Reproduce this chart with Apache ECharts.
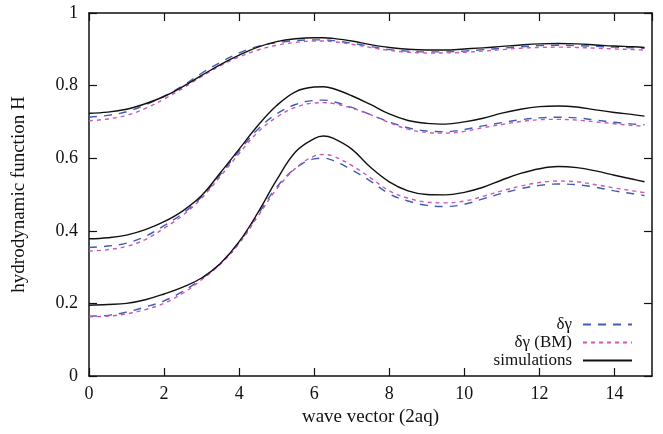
<!DOCTYPE html>
<html>
<head>
<meta charset="utf-8">
<script src="https://cdn.jsdelivr.net/npm/echarts@6/dist/echarts.min.js"></script>
<style>html,body{margin:0;padding:0;background:#fff}#c{width:663px;height:434px}</style>
</head>
<body>
<div id="c"></div>
<script>
// wave vector samples (2aq)
var q = [0,0.5,1,1.5,2,2.5,3,3.5,4,4.5,5,5.5,6,6.25,6.5,7,7.5,8,8.5,9,9.5,10,10.5,11,11.5,12,12.5,13,13.5,14,14.5,14.8];
var xTicks = [0,2,4,6,8,10,12,14];
var yTicks = [0,0.2,0.4,0.6,0.8,1];

// top group
var topSim = [0.724,0.727,0.735,0.750,0.770,0.797,0.828,0.858,0.884,0.906,0.921,0.929,0.932,0.932,0.930,0.923,0.913,0.905,0.900,0.898,0.898,0.901,0.904,0.908,0.912,0.915,0.916,0.915,0.912,0.909,0.907,0.905];
var topDg  = [0.713,0.718,0.728,0.747,0.771,0.800,0.834,0.864,0.890,0.908,0.918,0.924,0.926,0.926,0.924,0.917,0.908,0.899,0.895,0.893,0.893,0.895,0.899,0.903,0.907,0.910,0.911,0.910,0.908,0.906,0.904,0.903];
var topBM  = [0.703,0.708,0.718,0.737,0.763,0.793,0.825,0.855,0.879,0.898,0.911,0.919,0.923,0.923,0.921,0.914,0.905,0.897,0.892,0.890,0.890,0.892,0.895,0.899,0.903,0.905,0.906,0.905,0.903,0.901,0.899,0.898];
// middle group
var midSim = [0.378,0.381,0.388,0.403,0.425,0.455,0.497,0.560,0.625,0.690,0.745,0.783,0.796,0.797,0.792,0.772,0.748,0.722,0.704,0.696,0.694,0.700,0.710,0.724,0.735,0.742,0.744,0.741,0.733,0.726,0.720,0.716];
var midDg  = [0.354,0.358,0.366,0.385,0.414,0.448,0.494,0.555,0.620,0.680,0.722,0.748,0.759,0.760,0.756,0.740,0.720,0.700,0.684,0.675,0.673,0.679,0.689,0.698,0.706,0.711,0.713,0.711,0.705,0.699,0.694,0.692];
var midBM  = [0.344,0.348,0.357,0.376,0.407,0.443,0.490,0.550,0.613,0.672,0.713,0.740,0.752,0.753,0.751,0.738,0.720,0.698,0.680,0.671,0.669,0.674,0.684,0.693,0.701,0.706,0.707,0.705,0.700,0.695,0.690,0.689];
// bottom group
var botSim = [0.195,0.197,0.200,0.210,0.226,0.245,0.270,0.310,0.370,0.450,0.540,0.617,0.654,0.661,0.655,0.625,0.575,0.535,0.510,0.500,0.499,0.506,0.520,0.540,0.558,0.571,0.577,0.574,0.565,0.553,0.542,0.535];
var botDg  = [0.165,0.167,0.176,0.190,0.207,0.233,0.268,0.310,0.368,0.445,0.520,0.572,0.598,0.600,0.594,0.568,0.537,0.502,0.482,0.470,0.467,0.473,0.488,0.503,0.516,0.525,0.529,0.527,0.520,0.510,0.502,0.497];
var botBM  = [0.163,0.165,0.171,0.183,0.200,0.228,0.265,0.308,0.365,0.440,0.515,0.572,0.606,0.610,0.606,0.580,0.546,0.510,0.490,0.479,0.477,0.482,0.495,0.510,0.523,0.533,0.537,0.535,0.527,0.518,0.510,0.505];

var names = ['δγ', 'δγ (BM)', 'simulations'];
var BLUE = '#3f5cb6', PINK = '#c857b8', BLACK = '#111111';
var FONT = 'Liberation Serif';

function pts(arr){ return q.map(function(x,i){ return [x, arr[i]]; }); }
function ser(name, arr, color, dash){
  return {
    name: name, type: 'line', data: pts(arr), smooth: 0.4,
    symbol: 'none',
    lineStyle: { color: color, width: 1.4, type: dash },
    itemStyle: { color: color }, z: dash === 'solid' ? 3 : 2
  };
}
var series = [
  ser(names[0], topDg, BLUE, [8,7]),
  ser(names[0], midDg, BLUE, [8,7]),
  ser(names[0], botDg, BLUE, [8,7]),
  ser(names[1], topBM, PINK, [4,4]),
  ser(names[1], midBM, PINK, [4,4]),
  ser(names[1], botBM, PINK, [4,4]),
  ser(names[2], topSim, BLACK, 'solid'),
  ser(names[2], midSim, BLACK, 'solid'),
  ser(names[2], botSim, BLACK, 'solid')
];

var axisLine = { show: true, onZero: false, lineStyle: { color: '#111', width: 1.5 } };
var tick = { show: true, inside: true, length: 8, lineStyle: { color: '#111', width: 1.2 } };
var labelStyle = { fontFamily: FONT, fontSize: 18, color: '#111' };
var nameStyle = { fontFamily: FONT, fontSize: 19, color: '#111' };

var chart = echarts.init(document.getElementById('c'), null, { renderer: 'canvas' });
chart.setOption({
  animation: false,
  backgroundColor: '#fff',
  grid: { left: 89, right: 11, top: 13, bottom: 58 },
  legend: {
    data: names, right: 25, top: 311, orient: 'vertical', align: 'right',
    itemWidth: 49, itemHeight: 12, itemGap: 1,
    textStyle: { fontFamily: FONT, fontSize: 17, color: '#111', padding: [0, 6, 0, 0] },
    itemStyle: { color: 'transparent', borderColor: 'transparent', borderWidth: 0 },
    lineStyle: { type: 'inherit' }
  },
  xAxis: [{
    type: 'value', min: 0, max: 15, interval: 2,
    name: 'wave vector (2aq)', nameLocation: 'middle', nameGap: 32,
    nameTextStyle: nameStyle,
    axisLine: axisLine, axisTick: tick, splitLine: { show: false },
    axisLabel: Object.assign({ margin: 9, showMaxLabel: false }, labelStyle)
  }, {
    type: 'value', min: 0, max: 15, interval: 2, position: 'top',
    axisLine: axisLine, axisTick: tick, splitLine: { show: false },
    axisLabel: { show: false }
  }],
  yAxis: [{
    type: 'value', min: 0, max: 1, interval: 0.2,
    name: 'hydrodynamic function H', nameLocation: 'middle', nameGap: 60,
    nameTextStyle: nameStyle,
    axisLine: axisLine, axisTick: tick, splitLine: { show: false },
    axisLabel: Object.assign({ margin: 11, formatter: function(v){ return String(Math.round(v*10)/10); } }, labelStyle)
  }, {
    type: 'value', min: 0, max: 1, interval: 0.2, position: 'right',
    axisLine: axisLine, axisTick: tick, splitLine: { show: false },
    axisLabel: { show: false }
  }],
  series: series
});
</script>
</body>
</html>
